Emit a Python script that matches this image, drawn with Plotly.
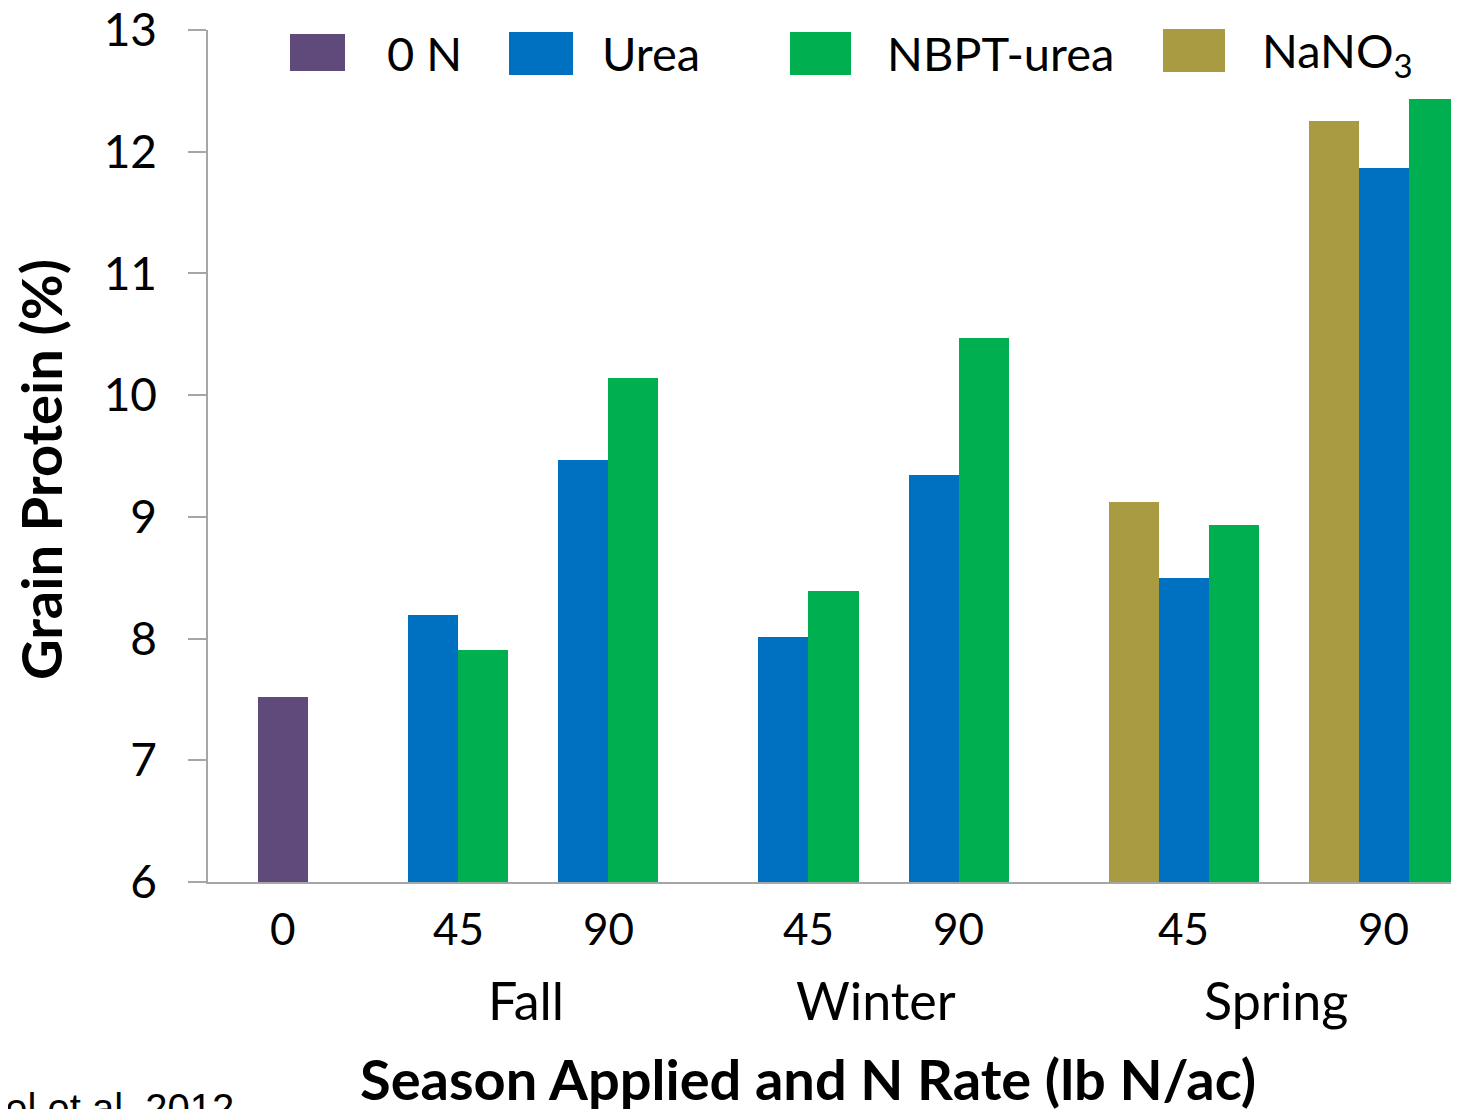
import plotly.graph_objects as go

# rate labels and the season each group belongs to
rates = ["0", "45", "90", "45", "90", "45", "90"]
seasons = ["", "Fall", "Fall", "Winter", "Winter", "Spring", "Spring"]

# grain protein (%) per group, None where the treatment was not applied
zero_n = [7.52, None, None, None, None, None, None]
urea = [None, 8.19, 9.47, 8.01, 9.34, 8.50, 11.87]
nbpt_urea = [None, 7.91, 10.14, 8.39, 10.47, 8.93, 12.43]
nano3 = [None, None, None, None, None, 9.12, 12.25]

series = [
    ("NaNO<sub>3</sub>", nano3, "#A89B42"),
    ("0 N", zero_n, "#604A7B"),
    ("Urea", urea, "#0070C0"),
    ("NBPT-urea", nbpt_urea, "#00B050"),
]

# layout: first bar slot of every group (one slot = one bar width)
group_start = [1, 4, 7, 11, 14, 18, 22]
n_slots = 25

FONT = "Lato"
# plot area in page pixels; the page body adds an 8px margin
OFF = 8
L, R, T, B = 208, 1459, 30, 882
W, H = 1459 - OFF, 1109 - OFF


def px(x):
    return (x - L) / (R - L)


def py(y):
    return (B - y) / (B - T)


# place bars of each group side by side, skipping missing treatments
xs = {name: [] for name, _, _ in series}
ys = {name: [] for name, _, _ in series}
centers = []
for g in range(len(rates)):
    slot = group_start[g]
    pos = []
    for name, vals, _ in series:
        if vals[g] is not None:
            xs[name].append(slot + 0.5)
            ys[name].append(vals[g] - 6)   # bars start at 6
            pos.append(slot + 0.5)
            slot += 1
    centers.append(sum(pos) / len(pos))

fig = go.Figure()
for name, vals, color in series:
    fig.add_trace(go.Bar(x=xs[name], y=ys[name], width=1, name=name, base=6,
                         marker=dict(color=color, line=dict(width=0)),
                         showlegend=False))

fig.update_layout(
    width=W, height=H,
    margin=dict(l=L - OFF, r=W - (R - OFF), t=T - OFF, b=H - (B - OFF)),
    paper_bgcolor="white", plot_bgcolor="white",
    bargap=0, barmode="overlay",
    font=dict(family=FONT, color="black"),
)
fig.update_xaxes(range=[0, n_slots], showticklabels=False, ticks="",
                 showgrid=False, zeroline=False, showline=True,
                 linecolor="#A6A6A6", linewidth=1.5, automargin=False)
fig.update_yaxes(range=[6, 13], dtick=1, tick0=6, showgrid=False, zeroline=False,
                 showline=True, linecolor="#A6A6A6", linewidth=1.5,
                 ticks="outside", ticklen=18, tickcolor="#A6A6A6", tickwidth=1.5,
                 tickfont=dict(size=46, family=FONT), ticklabelstandoff=22,
                 ticklabeloverflow="allow", automargin=False)


def label(x, y, text, size, xref="paper", xanchor="center", **kw):
    return dict(x=x, y=y, xref=xref, yref="paper", text=text, showarrow=False,
                xanchor=xanchor, yanchor=kw.pop("yanchor", "middle"),
                font=dict(size=size, family=kw.pop("family", FONT), color="black"), **kw)


ann = []
for g in range(len(rates)):
    ann.append(label(centers[g], py(928), rates[g], 44, xref="x"))

for s in ["Fall", "Winter", "Spring"]:
    c = [centers[i] for i in range(len(rates)) if seasons[i] == s]
    ann.append(label(sum(c) / len(c) - 0.15, py(1000), s, 52, xref="x"))

ann.append(label(px(808), py(1078), "<b>Season Applied and N Rate (lb N/ac)</b>", 56))
ann.append(label(px(40), py(470), "<b>Grain Protein (%)</b>", 56, textangle=-90))
ann.append(label(px(236), py(1084), "Engel et al. 2012", 40, xanchor="right",
                 yanchor="top", family="Liberation Sans"))

# legend drawn by hand: large swatches with labels
legend = [
    ("0 N", "#604A7B", 290, 345, 34, 71, 385),
    ("Urea", "#0070C0", 509, 573, 32, 75, 600),
    ("NBPT-urea", "#00B050", 790, 851, 32, 75, 885),
    ("NaNO<sub>3</sub>", "#A89B42", 1163, 1225, 29, 72, 1260),
]
shapes = []
for text, color, x0, x1, y0, y1, tx in legend:
    shapes.append(dict(type="rect", xref="paper", yref="paper",
                       x0=px(x0), x1=px(x1), y0=py(y1), y1=py(y0),
                       fillcolor=color, line=dict(width=0)))
    ann.append(label(px(tx), py(53), text, 47, xanchor="left"))

fig.update_layout(annotations=ann, shapes=shapes)
fig.write_html("out.html")
